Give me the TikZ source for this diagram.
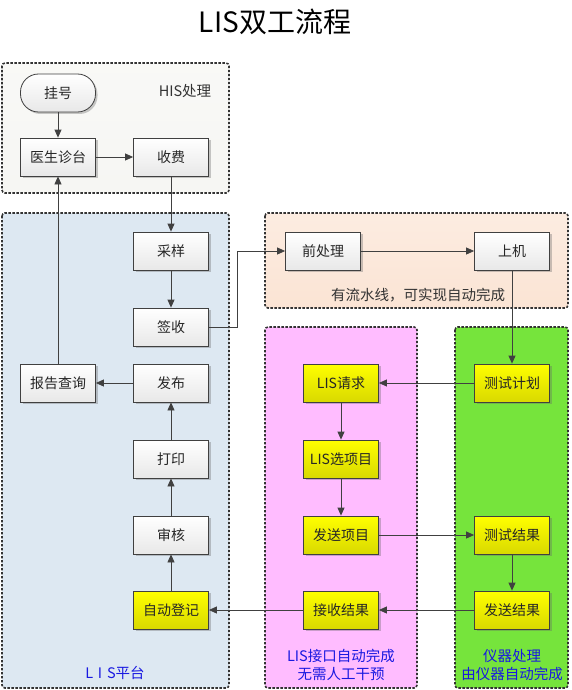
\documentclass[tikz,border=0pt]{standalone}
\usepackage{fontspec}
\setmainfont{Noto Sans CJK SC}
\usetikzlibrary{shadows,arrows.meta}
\definecolor{hisfill}{RGB}{246,246,243}
\definecolor{lisfill}{RGB}{221,232,242}
\definecolor{pipefill}{RGB}{251,228,212}
\definecolor{pinkfill}{RGB}{255,188,255}
\definecolor{greenfill}{RGB}{118,228,60}
\definecolor{lblblue}{RGB}{25,25,225}
\definecolor{linegray}{RGB}{64,64,64}
\tikzset{
  box/.style={draw=linegray, line width=0.8pt, minimum width=75pt, minimum height=38pt,
    top color=white, bottom color=black!9, text=black!85,
    drop shadow={shadow xshift=2pt, shadow yshift=-2pt, opacity=0.35, fill=black!60},
    font=\fontsize{14}{16}\selectfont, inner sep=2pt},
  ybox/.style={box, top color=yellow, bottom color=yellow!85!black},
  stadium/.style={box, rounded corners=18pt},
  arr/.style={-{Triangle[length=8pt,width=7pt]}, draw=linegray, line width=0.8pt},
  grp/.style={draw=black!80, line width=1.6pt, dash pattern=on 2.4pt off 1.6pt, rounded corners=3pt},
  glabel/.style={font=\fontsize{14.5}{17.5}\selectfont, align=center},
}
\begin{document}
\begin{tikzpicture}[x=1pt,y=-1pt]
\useasboundingbox (0,0) rectangle (572,690);
\fill[white] (0,0) rectangle (572,690);
% title
\node (title) at (275,22) {\fontsize{28}{30}\selectfont LIS双工流程};
% containers
\path[grp, top color=hisfill!70!white, bottom color=hisfill] (2,63) rectangle (229,193);
\path[grp, fill=lisfill] (2,213) rectangle (229,688);
\path[grp, top color=pipefill!70!white, bottom color=pipefill] (265,213) rectangle (568,308);
\path[grp, fill=pinkfill] (265,327) rectangle (417,688);
\path[grp, fill=greenfill] (455,327) rectangle (568,688);
% container labels
\node[glabel, text=black!80] (lhis) at (185,91) {HIS处理};
\node[glabel, text=black!80] (lpipe) at (418,295) {有流水线，可实现自动完成};
\node[glabel, text=lblblue] (llis) at (115,673) {L\,\,I\,\,S平台};
\node[glabel, text=lblblue] (lpink) at (341,665) {LIS接口自动完成\\无需人工干预};
\node[glabel, text=lblblue] (lgreen) at (512,665) {仪器处理\\由仪器自动完成};
% nodes
\node[stadium] (gh) at (58,93) {挂号};
\node[box] (ys) at (58,157) {医生诊台};
\node[box] (sf) at (171,157) {收费};
\node[box] (cy) at (171,251) {采样};
\node[box] (qs) at (171,327) {签收};
\node[box] (fb) at (171,383) {发布};
\node[box] (bg) at (58,383) {报告查询};
\node[box] (dy) at (171,459) {打印};
\node[box] (sh) at (171,535) {审核};
\node[ybox] (zd) at (171,610) {自动登记};
\node[box] (qcl) at (323,251) {前处理};
\node[box] (sj) at (512,251) {上机};
\node[ybox] (lq) at (341,383) {LIS请求};
\node[ybox] (lx) at (341,459) {LIS选项目};
\node[ybox] (fx) at (341,535) {发送项目};
\node[ybox] (js) at (341,610) {接收结果};
\node[ybox] (cj) at (512,383) {测试计划};
\node[ybox] (cr) at (512,535) {测试结果};
\node[ybox] (fs) at (512,610) {发送结果};
% connectors
\draw[arr] (gh) -- (ys);
\draw[arr] (ys) -- (sf);
\draw[arr] (sf) -- (cy);
\draw[arr] (cy) -- (qs);
\draw[arr] (qs.east) -- ++(28,0) |- (qcl.west);
\draw[arr] (qcl) -- (sj);
\draw[arr] (sj) -- (cj);
\draw[arr] (cj) -- (lq);
\draw[arr] (lq) -- (lx);
\draw[arr] (lx) -- (fx);
\draw[arr] (fx) -- (cr);
\draw[arr] (cr) -- (fs);
\draw[arr] (fs) -- (js);
\draw[arr] (js) -- (zd);
\draw[arr] (zd) -- (sh);
\draw[arr] (sh) -- (dy);
\draw[arr] (dy) -- (fb);
\draw[arr] (fb) -- (bg);
\draw[arr] (bg) -- (ys);
\end{tikzpicture}
\end{document}
